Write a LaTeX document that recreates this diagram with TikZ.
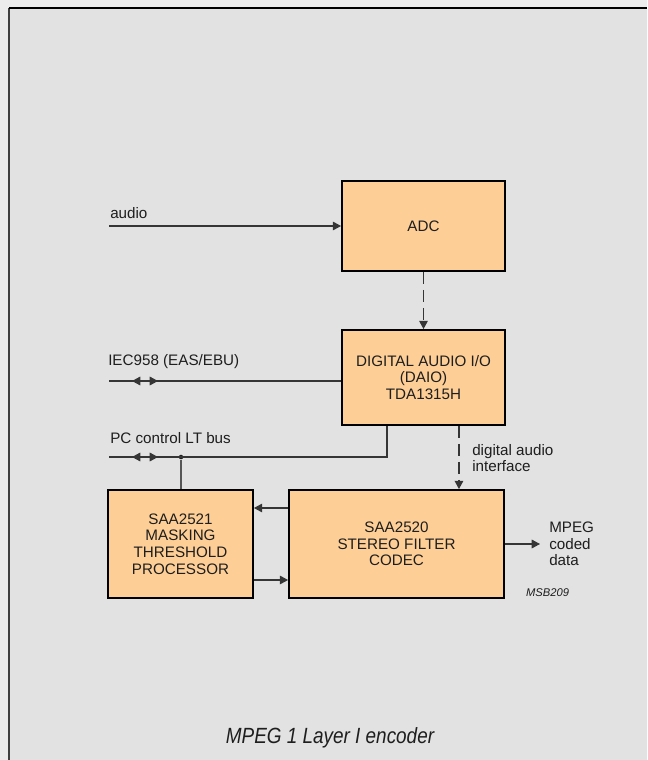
\documentclass[tikz,border=0pt]{standalone}
\usepackage{fontspec}
\setmainfont{Liberation Sans}
\usetikzlibrary{arrows.meta,decorations.markings}

\definecolor{peach}{RGB}{253,206,150}
\definecolor{panel}{RGB}{226,226,226}
\definecolor{outer}{RGB}{236,236,236}
\definecolor{ink}{RGB}{30,30,30}

\begin{document}
\begin{tikzpicture}[
x=0.75pt, y=-0.75pt,
blk/.style={draw=black, line width=1.4pt, fill=peach, align=center, text=ink,
  font=\fontsize{11.4}{12.4}\selectfont},
txt/.style={align=left, text=ink, inner sep=0pt, font=\fontsize{11.4}{12.4}\selectfont},
wire/.style={draw=ink!90, line width=0.8pt},
arrow/.style={wire, -{Triangle[length=6.2pt,width=6.5pt]}},
dasharrow/.style={arrow, dash pattern=on 9pt off 4.5pt},
bidir/.style={wire, postaction={decorate}, decoration={markings,
  mark=at position 17.25pt with {\arrowreversed{Triangle[length=6.2pt,width=6.5pt]}},
  mark=at position 36.75pt with {\arrow{Triangle[length=6.2pt,width=6.5pt]}}}},
dot/.style={circle, fill=ink, inner sep=0pt, minimum size=3.4pt} ]

% frame
\useasboundingbox[fill=outer] (0,0) rectangle (647,760);
\fill[panel] (9,8) rectangle (647,760);
\draw[line width=1.5pt, black!75] (9,760) -- (9,8);
\draw[line width=1.5pt, black] (9,8) -- (647,8);

% blocks
\node[blk, minimum width=122.25pt, minimum height=67.5pt](adc) at (423.5,226) {ADC};

\node[blk, minimum width=122.25pt, minimum height=71.25pt](daio) at (423.5,377.5) {DIGITAL AUDIO I/O\\(DAIO)\\TDA1315H};

\node[blk, minimum width=108.75pt, minimum height=81pt](mask) at (180.5,544) {SAA2521\\MASKING\\THRESHOLD\\PROCESSOR};

\node[blk, minimum width=161.25pt, minimum height=81pt](saa) at (396.5,544) {SAA2520\\STEREO FILTER\\CODEC};

% free ends
\coordinate (audioin) at (109,226);
\coordinate (iecin) at (109,381);
\coordinate (pcin) at (109,457);
\coordinate (pcbend) at (387,457);
\coordinate (mpegout) at (540,544);
\node[dot](pcdot) at (181,457) {};

% texts
\node[txt, anchor=west](audiotxt) at (110,213) {audio};
\node[txt, anchor=west](iectxt) at (108,362) {IEC958 (EAS/EBU)};
\node[txt, anchor=west](pctxt) at (110,438) {PC control LT bus};
\node[txt, anchor=west](daitxt) at (472,458) {digital audio\\interface};
\node[txt, anchor=west](mpegtxt) at (549,544) {MPEG\\coded\\data};
\node[text=ink, font=\fontsize{8.4}{10}\itshape\selectfont](code) at (547.5,593) {MSB209};
\node[text=ink, font=\fontsize{16.5}{18}\itshape\selectfont](caption) at (330,738) {\scalebox{0.86}[1]{MPEG 1 Layer I encoder}};

% connectors
\draw[arrow] (audioin) -- (adc.west);
\draw[dasharrow] (adc.south) -- (daio.north);
\draw[bidir] (iecin) -- (iecin -| daio.west);
\draw[bidir] (pcin) -- (pcbend) -- (pcbend |- daio.south);
\draw[wire, ink!75] (pcdot) -- (pcdot |- mask.north);
\draw[dasharrow] ([xshift=26.6pt]daio.south) -- ([xshift=26.6pt]daio.south |- saa.north);
\draw[arrow] ([yshift=27pt]saa.west) -- ([yshift=27pt]saa.west -| mask.east);
\draw[arrow] ([yshift=-27pt]mask.east) -- ([yshift=-27pt]mask.east -| saa.west);
\draw[arrow] (saa.east) -- (mpegout);

\end{tikzpicture}
\end{document}
